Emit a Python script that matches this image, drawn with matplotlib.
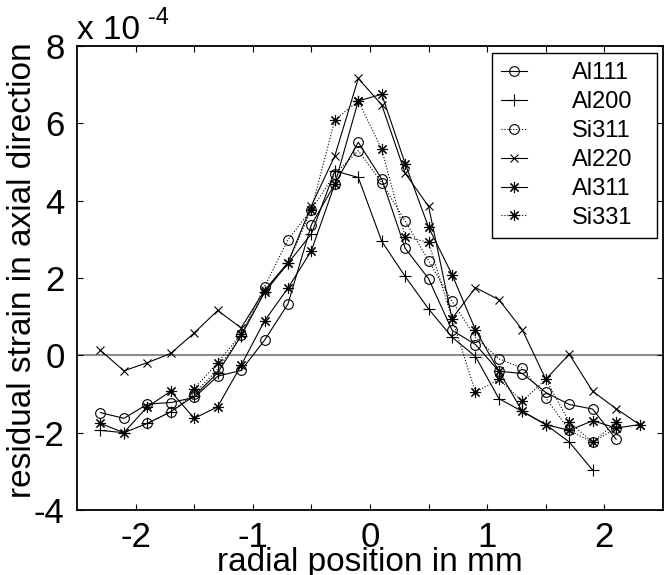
import matplotlib
matplotlib.use("Agg")
import matplotlib.pyplot as plt

plt.rcParams['font.family'] = ['Liberation Sans', 'DejaVu Sans']
plt.rcParams['axes.unicode_minus'] = False

# strain values in units of 1e-4, radial positions in mm
x_al111 = [-2.3, -2.1, -1.9, -1.7, -1.5, -1.3, -1.1, -0.9, -0.7, -0.5, -0.3, -0.1,
           0.1, 0.3, 0.5, 0.7, 0.9, 1.1, 1.3, 1.5, 1.7, 1.9, 2.1]
al111 = [-1.48, -1.63, -1.26, -1.22, -1.09, -0.54, -0.39, 0.39, 1.33, 3.38, 4.43, 5.51,
         4.56, 2.77, 1.98, 0.65, 0.28, -0.41, -0.47, -0.96, -1.27, -1.39, -2.17]

x_al200 = [-2.3, -2.1, -1.9, -1.7, -1.5, -1.3, -1.1, -0.9, -0.7, -0.5, -0.3, -0.1,
           0.1, 0.3, 0.5, 0.7, 0.9, 1.1, 1.3, 1.5, 1.7, 1.9]
al200 = [-1.94, -2.00, -1.76, -1.46, -1.05, -0.45, 0.50, 1.63, 2.38, 3.14, 4.77, 4.60,
         2.95, 2.04, 1.20, 0.47, -0.03, -1.12, -1.45, -1.79, -2.24, -2.97]

x_si311 = [-1.9, -1.7, -1.5, -1.3, -1.1, -0.9, -0.7, -0.5, -0.3, -0.1,
           0.1, 0.3, 0.5, 0.7, 0.9, 1.1, 1.3, 1.5, 1.7, 1.9, 2.1]
si311 = [-1.76, -1.46, -0.99, -0.36, 0.52, 1.78, 2.99, 3.77, 4.69, 5.29,
         4.47, 3.47, 2.45, 1.40, 0.47, -0.09, -0.33, -1.10, -1.94, -2.25, -1.88]

x_al220 = [-2.3, -2.1, -1.9, -1.7, -1.5, -1.3, -1.1, -0.9, -0.7, -0.5, -0.3, -0.1,
           0.1, 0.3, 0.5, 0.7, 0.9, 1.1, 1.3, 1.5, 1.7, 1.9, 2.1, 2.3]
al220 = [0.13, -0.40, -0.19, 0.05, 0.58, 1.16, 0.71, 1.68, 2.40, 3.87, 5.16, 7.16,
         6.48, 4.71, 3.85, 0.95, 1.75, 1.44, 0.66, -0.62, 0.03, -0.93, -1.38, -1.79]

x_al311 = [-2.3, -2.1, -1.9, -1.7, -1.5, -1.3, -1.1, -0.9, -0.7, -0.5, -0.3, -0.1,
           0.1, 0.3, 0.5, 0.7, 0.9, 1.1, 1.3, 1.5, 1.7, 1.9, 2.1, 2.3]
al311 = [-1.76, -2.00, -1.33, -0.93, -1.63, -1.33, -0.26, 0.89, 1.74, 2.71, 4.43, 6.58,
         6.75, 4.96, 3.31, 2.09, 0.66, -0.41, -1.45, -1.79, -1.94, -1.69, -1.88, -1.79]

x_si331 = [-1.5, -1.3, -1.1, -0.9, -0.7, -0.5, -0.3, -0.1,
           0.1, 0.3, 0.5, 0.7, 0.9, 1.1, 1.3, 1.5, 1.7, 1.9, 2.1]
si331 = [-0.86, -0.19, 0.55, 1.63, 2.38, 3.77, 6.09, 6.58,
         5.33, 3.07, 2.92, 0.95, -0.95, -0.62, -1.19, -0.62, -1.72, -2.25, -1.72]

xticks = [-2, -1.5, -1, -0.5, 0, 0.5, 1, 1.5, 2]
xticklabels = ['-2', '', '-1', '', '0', '', '1', '', '2']
yticks = [-4, -2, 0, 2, 4, 6, 8]

fig = plt.figure(figsize=(6.72, 5.75), dpi=100)
ax = fig.add_axes([0.1146, 0.1130, 0.8720, 0.8070])

ax.axhline(0, color='0.55', lw=1.5, zorder=1)

star = (8, 2, 0)
common = dict(color='black', lw=0.8, mew=0.8, mfc='none')
ax.plot(x_al111, al111, '-', marker='o', ms=7, label='Al111', **common)
ax.plot(x_al200, al200, '-', marker='+', ms=9, label='Al200', **common)
ax.plot(x_si311, si311, ':', marker='o', ms=7, label='Si311', **common)
ax.plot(x_al220, al220, '-', marker='x', ms=6, label='Al220', **common)
ax.plot(x_al311, al311, '-', marker=star, ms=8, label='Al311', **common)
ax.plot(x_si331, si331, ':', marker=star, ms=8, label='Si331', **common)

ax.set_xlim(-2.5, 2.5)
ax.set_ylim(-4, 8)
ax.set_xticks(xticks)
ax.set_xticklabels(xticklabels)
ax.set_yticks(yticks)
ax.set_yticklabels([str(v) for v in yticks])
ax.tick_params(direction='in', top=True, right=True, length=4, width=0.8,
               labelsize=25)
ax.tick_params(axis='x', pad=8)
ax.tick_params(axis='y', pad=9)
for s in ax.spines.values():
    s.set_linewidth(1.3)

ax.set_xlabel('radial position in mm', fontsize=24)
ax.xaxis.set_label_coords(0.5, -0.080)
ax.set_ylabel('residual strain in axial direction', fontsize=24)
ax.yaxis.set_label_coords(-0.066, 0.517)

fig.text(77 / 672, 1 - 39 / 575, 'x 10', fontsize=24, va='baseline', ha='left')
fig.text(148 / 672, 1 - 24 / 575, '-4', fontsize=17, va='baseline', ha='left')

leg = ax.legend(loc='upper left', bbox_to_anchor=(0.708, 0.0, 0.282, 0.985),
                mode='expand', fontsize=17, frameon=True, fancybox=False,
                edgecolor='black', framealpha=1, borderaxespad=0.0,
                handlelength=1.1, handletextpad=1.9, labelspacing=0.29,
                borderpad=0.4)
leg.get_frame().set_linewidth(1.0)

fig.savefig('out.png', dpi=100)
